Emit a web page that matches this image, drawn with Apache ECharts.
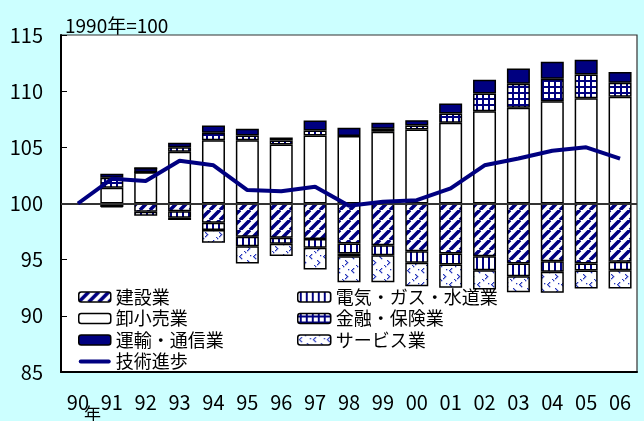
<!DOCTYPE html>
<html><head><meta charset="utf-8">
<script src="https://cdn.jsdelivr.net/npm/echarts@6/dist/echarts.min.js"></script>
<style>html,body{margin:0;padding:0;background:#CCFFFF}#c{width:644px;height:421px}</style>
</head><body><div id="c"></div>
<script>
const years = ['90','91','92','93','94','95','96','97','98','99','00','01','02','03','04','05','06'];
// contributions (percentage points, relative to 1990 = 100)
const construction = [null,-0.24,-0.74,-0.68,-1.72,-2.97,-3.05,-3.15,-3.56,-3.71,-4.24,-4.45,-4.69,-5.34,-5.13,-5.34,-5.19];
const utilities    = [null,0,-0.35,-0.59,-0.65,-0.83,-0.53,-0.80,-0.89,-0.89,-1.04,-0.98,-1.25,-1.13,-0.95,-0.62,-0.75];
const trade        = [null,1.40,2.79,4.60,5.64,5.64,5.25,6.05,6.00,6.38,6.59,7.18,8.22,8.52,9.11,9.38,9.50];
const finance      = [null,0.89,0,0.41,0.65,0.42,0.36,0.45,-0.25,0.27,0.36,0.83,1.58,2.14,1.99,2.11,1.25];
const transport    = [null,0.36,0.36,0.39,0.65,0.59,0.27,0.89,0.74,0.53,0.47,0.89,1.22,1.36,1.51,1.31,0.95];
const services     = [null,-0.10,0,-0.20,-1.13,-1.54,-1.10,-1.93,-2.31,-2.40,-2.08,-2.08,-1.72,-1.42,-1.87,-1.60,-1.63];
const techProgress = [100,102.2,102.0,103.8,103.4,101.2,101.1,101.5,99.8,100.15,100.3,101.35,103.4,104.0,104.7,105.0,104.0];
const yTicks = [85,90,95,100,105,110,115];
const BASE = 100;

const NAVY = '#000080';
function tile(w,h,draw){const c=document.createElement('canvas');c.width=w;c.height=h;const g=c.getContext('2d');g.fillStyle='#fff';g.fillRect(0,0,w,h);g.fillStyle=NAVY;g.strokeStyle=NAVY;draw(g);return {image:c,repeat:'repeat'};}
const patDiag = tile(10,10,g=>{g.lineWidth=3.6;g.beginPath();for(const k of [-10,0,10]){g.moveTo(k,10);g.lineTo(k+10,0);}g.stroke();});
const patVert = tile(6,6,g=>{g.fillRect(2,0,2,6);});
const patGrid = tile(6,6,g=>{g.fillRect(2,0,2,6);g.fillRect(0,2,6,2);});
const patDots = tile(14,14,g=>{g.fillStyle='#2233bb';
  [[3,2],[2,3],[1,4],[2,5],[3,6],[9,8],[10,9],[11,10],[10,11],[9,12],[7,0],[6,13],[12,3]].forEach(p=>g.fillRect(p[0],p[1],1.3,1.3));});

const FONT = "'Liberation Sans Narrow','Noto Sans CJK JP',sans-serif";
const JFONT = "'Noto Sans CJK JP',sans-serif";
const border = {borderColor:'#000',borderWidth:1.5};

function barSeries(name,data,color){
  return {name,type:'bar',stack:'t',data,barWidth:23,itemStyle:Object.assign({color},border)};
}
const series = [
  barSeries('建設業',construction,patDiag),
  barSeries('電気・ガス・水道業',utilities,patVert),
  barSeries('卸小売業',trade,'#fff'),
  barSeries('金融・保険業',finance,patGrid),
  barSeries('運輸・通信業',transport,NAVY),
  barSeries('サービス業',services,patDots),
  {name:'技術進歩',type:'line',data:techProgress.map(v=>v-BASE),symbol:'none',z:5,
   lineStyle:{color:NAVY,width:4},itemStyle:{color:NAVY}}
];
series[0].markLine={silent:true,symbol:'none',label:{show:false},lineStyle:{color:'#333',width:2,type:'solid'},data:[{yAxis:0}]};

const legText = {fontFamily:JFONT,fontSize:18,lineHeight:17,color:'#000'};
const legIt = n=>({name:n,itemStyle:{borderColor:'#000',borderWidth:1.5}});
const chart = echarts.init(document.getElementById('c'));
chart.setOption({
  backgroundColor:'#CCFFFF',
  animation:false,
  title:{text:'1990年=100',left:60,top:11,textStyle:{fontFamily:FONT,fontSize:19,fontWeight:'normal',color:'#000'}},
  grid:{left:61,right:7,top:35,bottom:49,show:true,backgroundColor:'#fff',borderColor:'#333',borderWidth:1.2},
  legend:[
    {orient:'vertical',left:73,top:283,itemWidth:32,itemHeight:10,itemGap:3.5,selectedMode:false,textStyle:legText,
     data:[legIt('建設業'),legIt('卸小売業'),legIt('運輸・通信業'),
       {name:'技術進歩',icon:'path://M2,0H30A2,2,0,0,1,30,4H2A2,2,0,0,1,2,0Z',itemStyle:{color:NAVY,borderWidth:0}}]},
    {orient:'vertical',left:292,top:283,itemWidth:33,itemHeight:10,itemGap:3.5,selectedMode:false,textStyle:legText,
     data:[legIt('電気・ガス・水道業'),legIt('金融・保険業'),legIt('サービス業')]}
  ],
  xAxis:{type:'category',data:years,boundaryGap:true,
    axisLine:{onZero:false,lineStyle:{color:'#000',width:2}},
    axisTick:{inside:true,length:6,lineStyle:{color:'#000',width:1}},
    axisLabel:{fontFamily:FONT,fontSize:20,color:'#000',margin:20,interval:0}},
  yAxis:{type:'value',min:yTicks[0]-BASE,max:yTicks[yTicks.length-1]-BASE,interval:5,
    axisLine:{show:true,lineStyle:{color:'#000',width:2}},
    axisTick:{show:true,inside:true,length:6,lineStyle:{color:'#000',width:1}},
    splitLine:{show:false},
    axisLabel:{fontFamily:FONT,fontSize:20,color:'#000',margin:18,formatter:v=>String(v+BASE)}},
  graphic:[{type:'text',left:84,top:405,style:{text:'年',font:"17px 'Noto Sans CJK JP'",fill:'#000'}}],
  series
});
</script></body></html>
